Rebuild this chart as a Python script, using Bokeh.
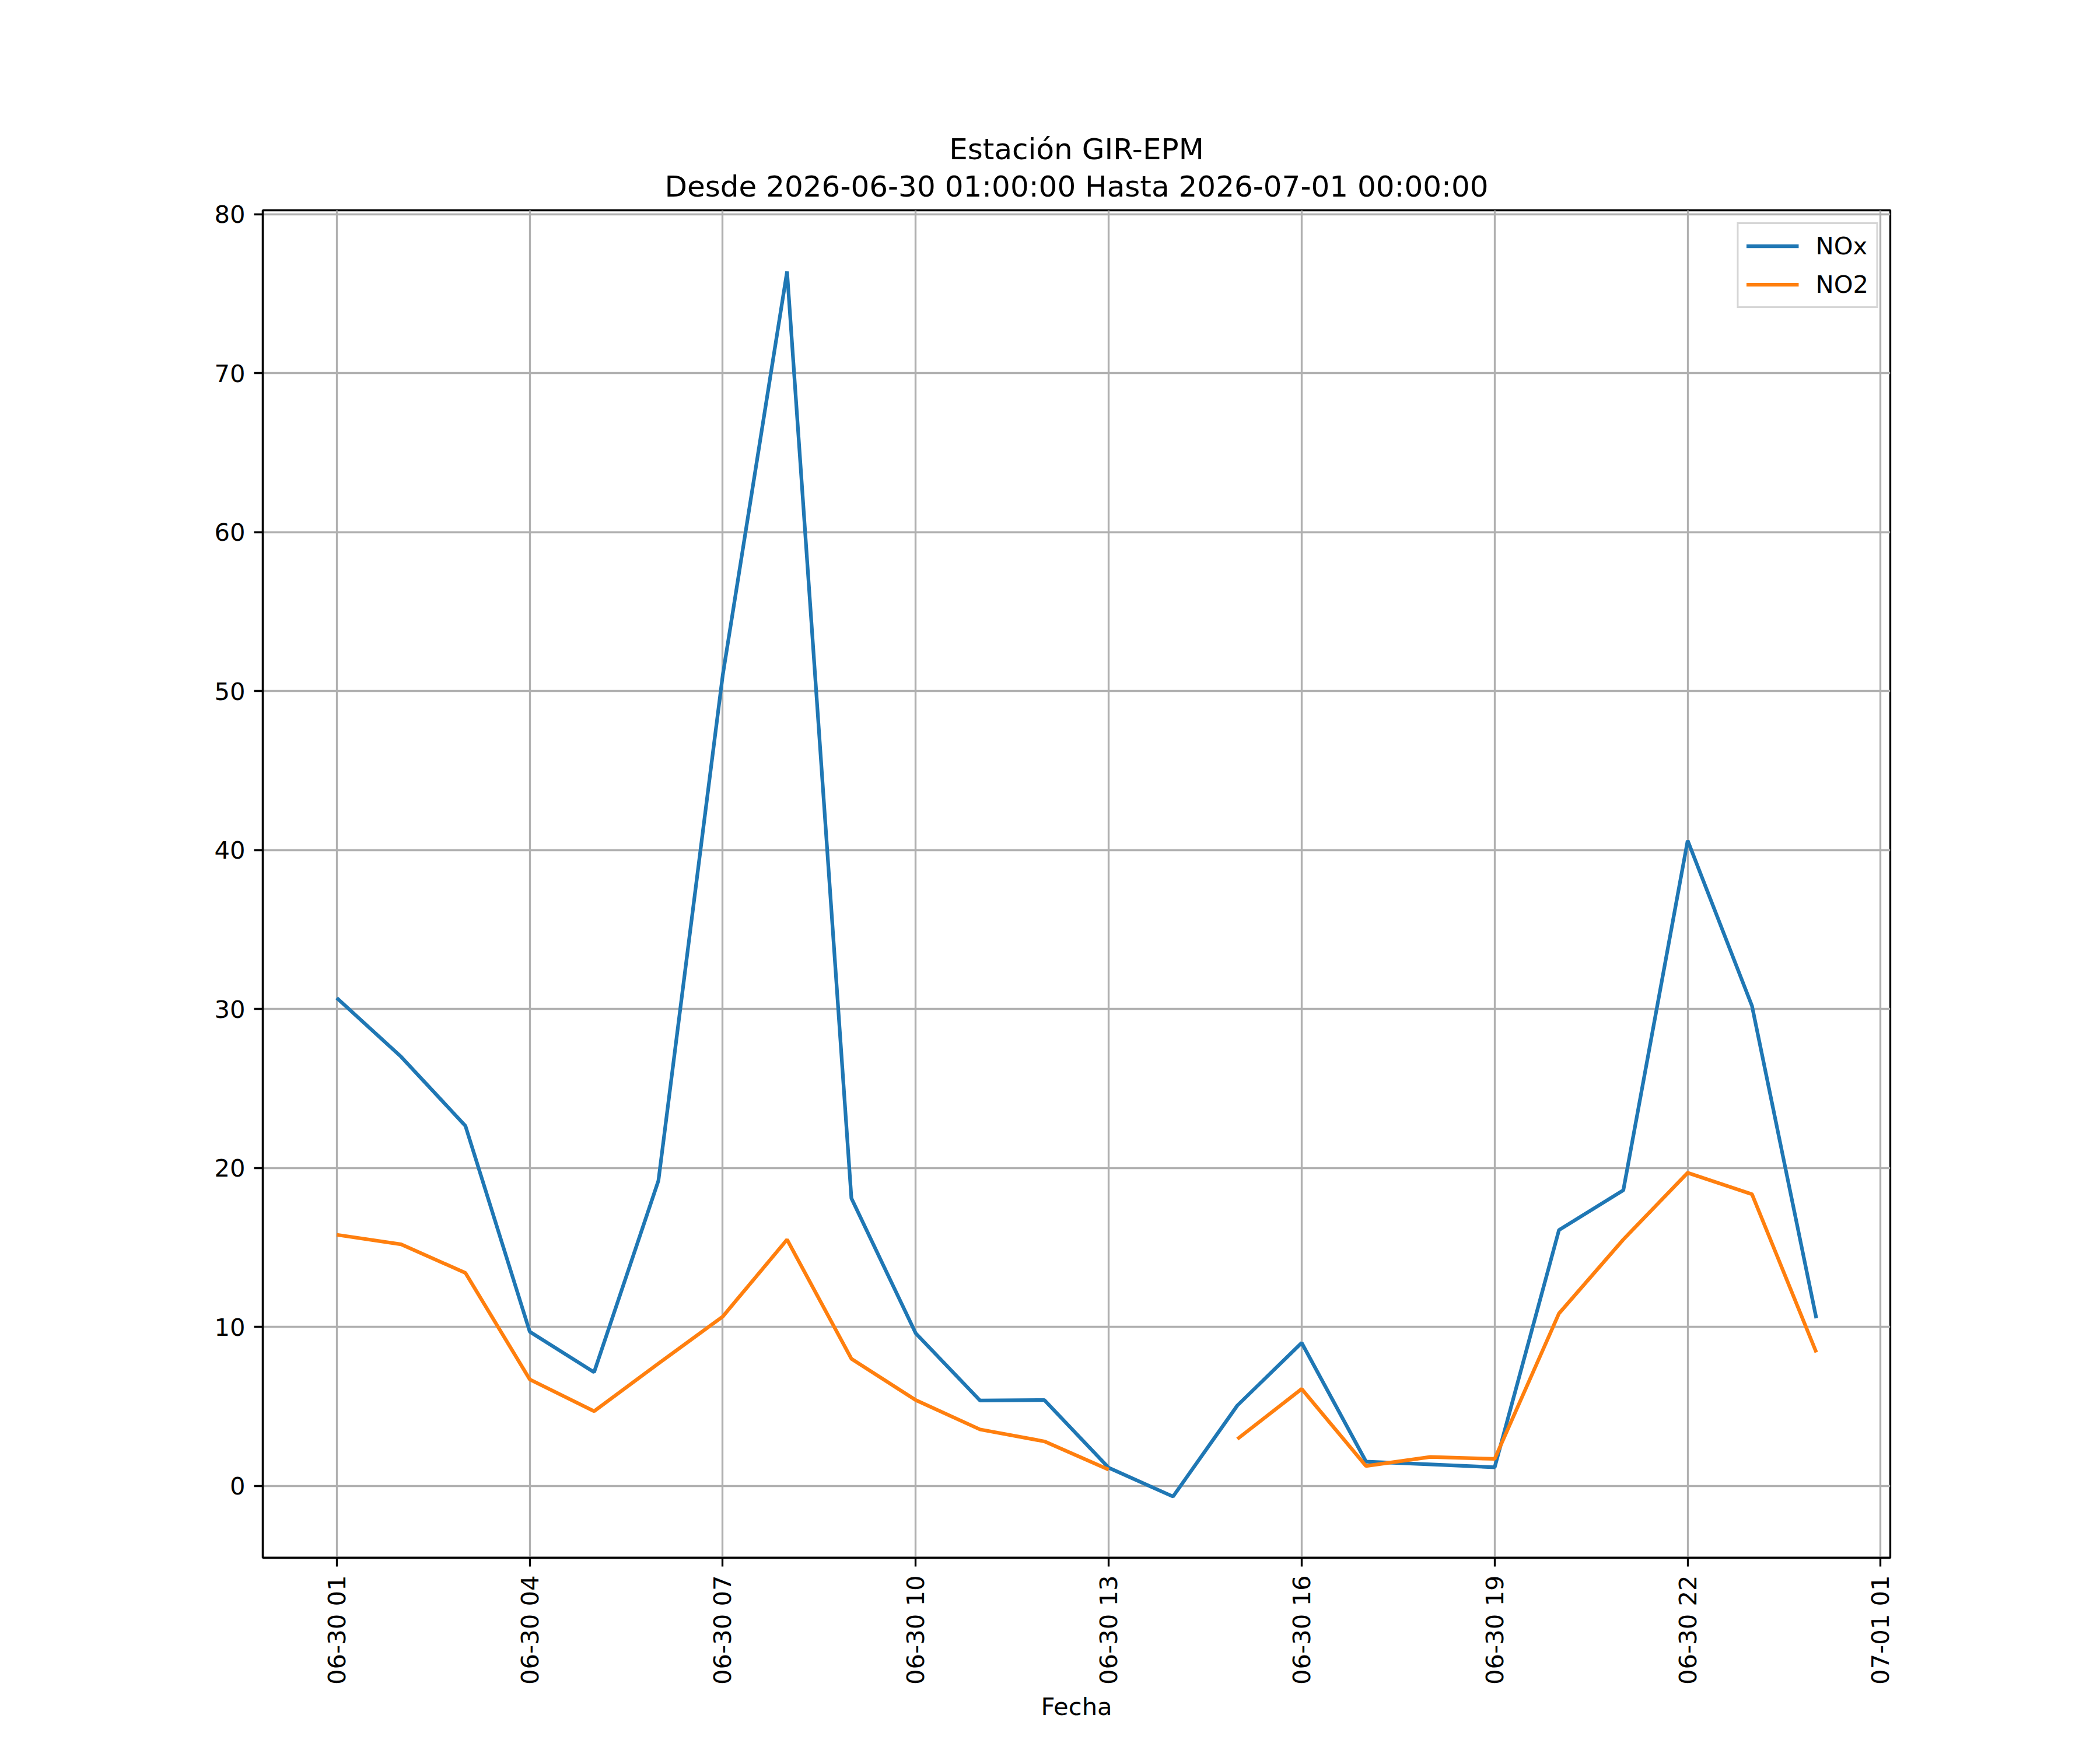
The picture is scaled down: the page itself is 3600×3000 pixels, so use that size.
import numpy as np
import pandas as pd
from bokeh.plotting import figure
from bokeh.models import Range1d, FixedTicker, DatetimeTickFormatter, Title, ColumnDataSource
from bokeh.embed import file_html
from bokeh.resources import INLINE

# ---- data ----
fecha = pd.date_range("2026-06-30 01:00", "2026-07-01 00:00", freq="h")
nox = [30.7, 27.0, 22.65, 9.7, 7.15, 19.2, 51.0, 76.4, 18.1, 9.6, 5.37, 5.4,
       1.14, -0.67, 5.06, 9.0, 1.53, 1.35, 1.17, 16.1, 18.6, 40.6, 30.2, 10.55]
no2 = [15.8, 15.2, 13.4, 6.7, 4.7, 7.7, 10.65, 15.5, 8.0, 5.4, 3.55, 2.8,
       1.02, np.nan, 2.95, 6.1, 1.25, 1.82, 1.7, 10.85, 15.5, 19.7, 18.35, 8.4]
x_ticks = ["2026-06-30 01:00", "2026-06-30 04:00", "2026-06-30 07:00",
           "2026-06-30 10:00", "2026-06-30 13:00", "2026-06-30 16:00",
           "2026-06-30 19:00", "2026-06-30 22:00", "2026-07-01 01:00"]
y_ticks = [0, 10, 20, 30, 40, 50, 60, 70, 80]
title_1 = "Estación GIR-EPM"
title_2 = "Desde 2026-06-30 01:00:00 Hasta 2026-07-01 00:00:00"
series_names = ["NOx", "NO2"]
colors = ["#1f77b4", "#ff7f0e"]

FONT = "DejaVu Sans"
FS = "41.7px"
LW_THIN = 3.3

src = ColumnDataSource(dict(fecha=fecha, nox=nox, no2=no2))

span = fecha[-1] - fecha[0]
xr = Range1d(start=fecha[0] - span * 0.05, end=fecha[-1] + span * 0.05)
allv = np.array(nox + no2, dtype=float)
ymin, ymax = np.nanmin(allv), np.nanmax(allv)
ypad = (ymax - ymin) * 0.05
yr = Range1d(start=ymin - ypad, end=ymax + ypad)

p = figure(width=3584, height=2984, x_axis_type="datetime", x_range=xr, y_range=yr,
           output_backend="svg", toolbar_location=None, title=None,
           min_border_left=450, min_border_right=344, min_border_top=360,
           min_border_bottom=314)
p.background_fill_color = "white"
p.border_fill_color = "white"
p.outline_line_color = "black"
p.outline_line_width = LW_THIN

for col, name, c in zip(["nox", "no2"], series_names, colors):
    p.line("fecha", col, source=src, line_color=c, line_width=6.25, legend_label=name)

# titles (added first is closest to the frame)
t2 = Title(text=title_2, align="center", text_font=FONT, text_font_size="50px",
           text_font_style="normal", text_color="black", standoff=24)
t1 = Title(text=title_1, align="center", text_font=FONT, text_font_size="50px",
           text_font_style="normal", text_color="black", standoff=-17)
p.add_layout(t2, "above")
p.add_layout(t1, "above")

# axes
tick_ms = [pd.Timestamp(t).value // 10**6 for t in x_ticks]
p.xaxis.ticker = FixedTicker(ticks=tick_ms)
fmt = "%m-%d %H"
p.xaxis.formatter = DatetimeTickFormatter(milliseconds=fmt, seconds=fmt, minsec=fmt,
                                          minutes=fmt, hourmin=fmt, hours=fmt,
                                          days=fmt, months=fmt, years=fmt)
p.xaxis.major_label_orientation = np.pi / 2
p.xaxis.axis_label = "Fecha"
p.yaxis.ticker = FixedTicker(ticks=y_ticks)

for ax in (p.xaxis, p.yaxis):
    ax.axis_line_color = "black"
    ax.axis_line_width = LW_THIN
    ax.major_tick_out = 15
    ax.major_tick_in = 0
    ax.major_tick_line_width = LW_THIN
    ax.major_tick_line_color = "black"
    ax.minor_tick_out = 0
    ax.minor_tick_in = 0
    ax.major_label_text_font = FONT
    ax.major_label_text_font_size = FS
    ax.major_label_text_color = "black"
    ax.major_label_standoff = 15
    ax.axis_label_text_font = FONT
    ax.axis_label_text_font_size = FS
    ax.axis_label_text_font_style = "normal"
    ax.axis_label_text_color = "black"
    ax.axis_label_standoff = 10

for g in (p.xgrid, p.ygrid):
    g.grid_line_color = "#b0b0b0"
    g.grid_line_width = LW_THIN

lg = p.legend[0]
lg.location = "top_right"
lg.margin = 21
lg.padding = 13
lg.spacing = 17
lg.glyph_width = 90
lg.glyph_height = 45
lg.label_height = 45
lg.label_standoff = 29
lg.label_text_font = FONT
lg.label_text_font_size = FS
lg.label_text_color = "black"
lg.border_line_color = "#cccccc"
lg.border_line_alpha = 0.8
lg.border_line_width = LW_THIN
lg.background_fill_alpha = 0.8

open("out.html", "w").write(file_html(p, INLINE))
